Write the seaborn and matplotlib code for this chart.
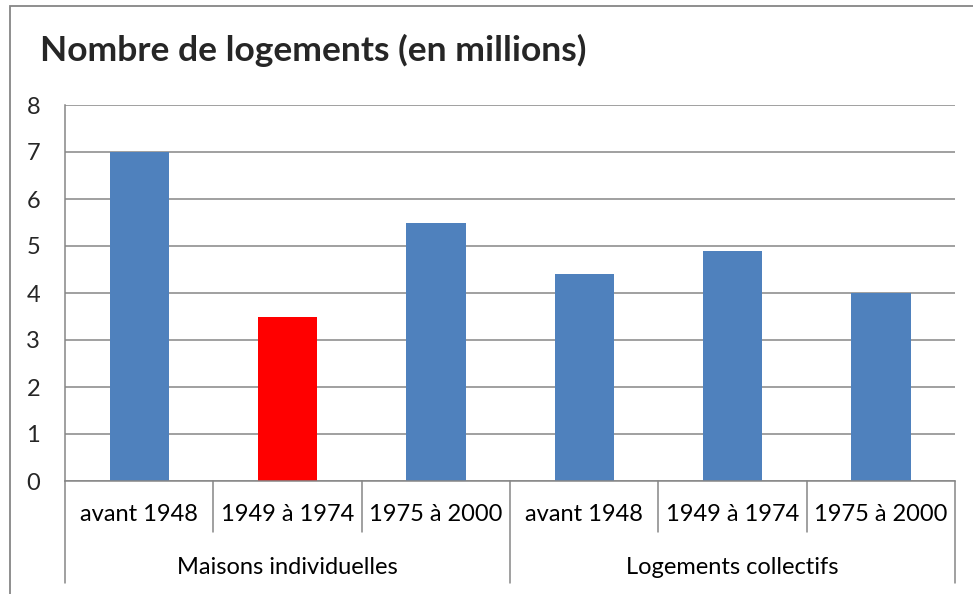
import matplotlib
matplotlib.use("Agg")
import matplotlib.pyplot as plt
import matplotlib.transforms as mtransforms
from matplotlib.patches import Rectangle
import pandas as pd
import seaborn as sns

### chart values
groups = ["Maisons individuelles", "Logements collectifs"]
periods = ["avant 1948", "1949 à 1974", "1975 à 2000"]
values = [7.0, 3.5, 5.5, 4.4, 4.9, 4.0]
bar_colors = ["#4F81BD", "#FF0000", "#4F81BD", "#4F81BD", "#4F81BD", "#4F81BD"]
y_ticks = [0, 1, 2, 3, 4, 5, 6, 7, 8]

df = pd.DataFrame({
    "groupe": [g for g in groups for _ in periods],
    "periode": periods * len(groups),
    "valeur": values,
})
df["cle"] = df["groupe"] + " | " + df["periode"]

sns.set_style("white")
plt.rcParams["font.family"] = ["Lato", "DejaVu Sans"]

grey = "#868686"
fs = 17

fig = plt.figure(figsize=(9.73, 5.94), dpi=100)
ax = fig.add_axes([65 / 973, 1 - 481 / 594, 890 / 973, 376 / 594])

sns.barplot(data=df, x="cle", y="valeur", hue="cle",
            palette=dict(zip(df["cle"], bar_colors)),
            width=0.4, saturation=1, legend=False, linewidth=0, ax=ax)

ax.set_xlim(-0.5, len(values) - 0.5)
ax.set_ylim(0, 8)
ax.set_yticks(y_ticks)
ax.set_xticks([])
ax.set_xlabel("")
ax.set_ylabel("")
ax.tick_params(axis="y", length=6, width=1.1, color=grey, pad=12, labelsize=fs)

# gridlines
ax.yaxis.grid(True, color=grey, linewidth=1.1)
ax.set_axisbelow(True)
for side in ["top", "right"]:
    ax.spines[side].set_visible(False)
for side in ["left", "bottom"]:
    ax.spines[side].set_color(grey)
    ax.spines[side].set_linewidth(1.1)

### multi level category axis
trans = mtransforms.blended_transform_factory(ax.transData, ax.transAxes)
n = len(periods)
for i in range(len(values) + 1):
    xpos = i - 0.5
    y_end = -0.271 if i % n == 0 else -0.136
    ax.plot([xpos, xpos], [0, y_end], color=grey, linewidth=1.1,
            transform=trans, clip_on=False)

for i, row in df.iterrows():
    ax.text(i, -0.09, row["periode"], transform=trans, ha="center", va="center",
            fontsize=fs, color="black")

for gi, g in enumerate(groups):
    ax.text(gi * n + (n - 1) / 2, -0.229, g, transform=trans, ha="center",
            va="center", fontsize=fs, color="black")

### title and outer frame
fig.text(40 / 973, 1 - 61 / 594, "Nombre de logements (en millions)",
         fontsize=25.5, fontweight="bold", ha="left", va="baseline")

fig.patches.append(Rectangle((10 / 973, -0.05), 1.2, 0.05 + 1 - 6 / 594,
                             transform=fig.transFigure, fill=False,
                             edgecolor=grey, linewidth=1.3))

fig.savefig("out.png", dpi=100)
